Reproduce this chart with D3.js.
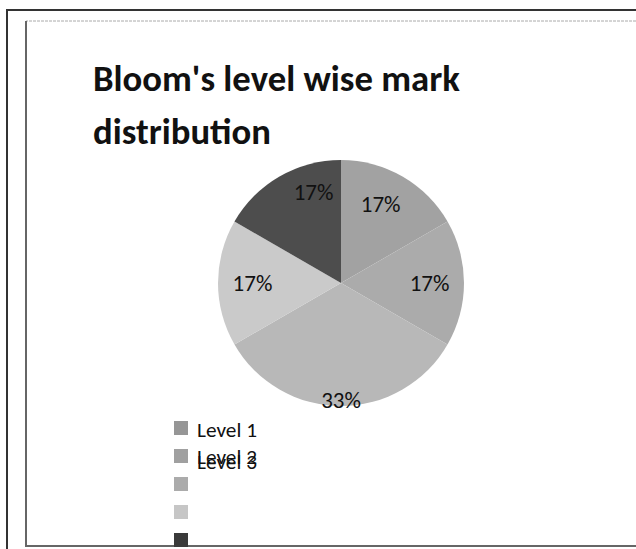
<!DOCTYPE html>
<html>
<head>
<meta charset="utf-8">
<script src="https://cdn.jsdelivr.net/npm/d3@7"></script>
<style>
  body { margin: 0; background: #fff; }
  svg { display: block; }
  text { font-family: Carlito, Lato, "Open Sans", sans-serif; fill: #111; }
</style>
</head>
<body>
<div id="chart"></div>
<script>
// data
var levels = ["Level 1", "Level 2", "Level 3", "Level 4", "Level 5"];
var marks = [1, 1, 2, 1, 1];
var titleLines = ["Bloom's level wise mark", "distribution"];

// slice greys (scan of a grey print)
var greys = ["#a2a2a2", "#ababab", "#b8b8b8", "#cacaca", "#4d4d4d"];
var legendGreys = ["#969696", "#a0a0a0", "#ababab", "#c6c6c6", "#3a3a3a"];

var width = 636
height = 549

var svg = d3.select("#chart")
    .append("svg")
    .attr("width", width)
    .attr("height", height);

// scanned frame lines
svg.append("path").attr("d", "M7,549 V10 H636").attr("fill", "none")
    .attr("stroke", "#333").attr("stroke-width", 2);
svg.append("path").attr("d", "M636,21 H26").attr("fill", "none")
    .attr("stroke", "#aaa").attr("stroke-width", 1).attr("stroke-dasharray", "3,1");
svg.append("path").attr("d", "M26,21 V546 H636").attr("fill", "none")
    .attr("stroke", "#666").attr("stroke-width", 2);

// title, fitted to the width of the scanned title
var title = svg.append("g");
titleLines.forEach((t, i) => {
    title.append("text")
        .attr("x", 93)
        .attr("y", 91 + i * 53)
        .attr("font-size", 36)
        .attr("font-weight", "bold")
        .text(t);
});
var w0 = title.select("text").node().getComputedTextLength();
title.selectAll("text").attr("font-size", 36 * 367 / w0);

// pie
var cx = 341, cy = 283, radius = 123;
var color = d3.scaleOrdinal().domain(levels).range(greys);
var legendColor = d3.scaleOrdinal().domain(levels).range(legendGreys);

var pie = d3.pie().sort(null).value(d => d.value);
var data_ready = pie(levels.map((l, i) => ({ key: l, value: marks[i] })));
var total = d3.sum(marks);

var g = svg.append("g").attr("transform", "translate(" + cx + "," + cy + ")");

g.selectAll("path")
    .data(data_ready)
    .enter()
    .append("path")
    .attr("d", d3.arc().innerRadius(0).outerRadius(radius))
    .attr("fill", d => color(d.data.key));

// excel "best fit" label placement: radius factor and angle nudge per slice
var labelR = [0.72, 0.72, 0.95, 0.72, 0.77];
var labelNudge = [-0.06, 0, 0, 0, 0.23];

g.selectAll("text")
    .data(data_ready)
    .enter()
    .append("text")
    .attr("text-anchor", "middle")
    .attr("dy", "0.35em")
    .attr("font-size", 23)
    .attr("transform", (d, i) => {
        var r = radius * labelR[i];
        var a = (d.startAngle + d.endAngle) / 2 + labelNudge[i];
        return "translate(" + (r * Math.sin(a)) + "," + (-r * Math.cos(a)) + ")";
    })
    .text(d => Math.round(d.data.value / total * 100) + "%");

// legend: boxes in rows, but the names after the first pile up on row two
var legend = svg.append("g").attr("transform", "translate(174,421)");
var rowH = 28;

legend.selectAll("rect")
    .data(levels)
    .enter()
    .append("rect")
    .attr("x", 0)
    .attr("y", (d, i) => i * rowH)
    .attr("width", 14)
    .attr("height", 14)
    .attr("fill", d => legendColor(d));

legend.selectAll("text")
    .data(levels.slice(0, 3))
    .enter()
    .append("text")
    .attr("x", 23)
    .attr("y", (d, i) => i === 0 ? 16 : rowH + 15 + (i - 1) * 5)
    .attr("font-size", 19)
    .text(d => d);

// stretch the legend names to the scanned width
var lw = legend.select("text").node().getComputedTextLength();
legend.selectAll("text").attr("font-size", 19 * Math.min(60 / lw, 1.2));
</script>
</body>
</html>
